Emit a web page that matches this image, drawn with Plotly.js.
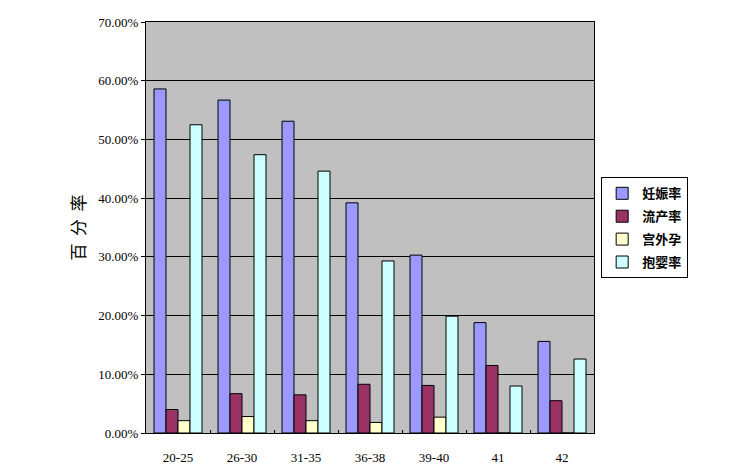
<!DOCTYPE html>
<html>
<head>
<meta charset="utf-8">
<script src="https://cdn.plot.ly/plotly-3.0.1.min.js"></script>
<style>html,body{margin:0;padding:0;background:#fff;}#chart{width:730px;height:471px;}</style>
</head>
<body>
<div id="chart"></div>
<script>
const categories = ["20-25", "26-30", "31-35", "36-38", "39-40", "41", "42"];
const seriesNames = ["妊娠率", "流产率", "宫外孕", "抱婴率"];
const pregnancy = [58.6, 56.7, 53.1, 39.2, 30.3, 18.8, 15.6];
const miscarriage = [4.0, 6.7, 6.5, 8.3, 8.1, 11.5, 5.5];
const ectopic = [2.1, 2.8, 2.1, 1.8, 2.7, 0, 0];
const babyRate = [52.5, 47.4, 44.6, 29.3, 19.9, 8.0, 12.6];
const colors = ["#9999ff", "#993366", "#ffffcc", "#ccffff"];
const allSeries = [pregnancy, miscarriage, ectopic, babyRate];

const traces = allSeries.map((vals, i) => ({
  type: "bar",
  name: seriesNames[i],
  legendgroup: "g" + i,
  x: categories,
  y: vals,
  marker: { color: colors[i], line: { color: "#000000", width: 1 } },
  hoverinfo: "x+y+name"
}));

const serif = "Liberation Serif, DejaVu Serif, serif";
const layout = {
  width: 730, height: 471,
  margin: { l: 146, r: 136, t: 22, b: 38 },
  paper_bgcolor: "#ffffff",
  plot_bgcolor: "#c0c0c0",
  barmode: "group",
  bargap: 0.25,
  bargroupgap: 0,
  showlegend: true,
  legend: {
    x: 1.016, y: 0.622, xanchor: "left", yanchor: "top",
    bgcolor: "#ffffff", bordercolor: "#000000", borderwidth: 1,
    font: { family: "Noto Sans CJK SC, sans-serif", size: 13, color: "#000", weight: "bold" },
    itemwidth: 30, tracegroupgap: 3
  },
  xaxis: {
    type: "category",
    showline: true, linecolor: "#000000", linewidth: 1, mirror: true,
    ticks: "inside", ticklen: 3, tickcolor: "#000", tickson: "boundaries",
    ticklabelstandoff: 12,
    tickfont: { family: serif, size: 13, color: "#000" },
    showgrid: false
  },
  yaxis: {
    range: [0, 70], dtick: 10,
    tickformat: ".2f", ticksuffix: "%",
    showline: true, linecolor: "#000000", linewidth: 1, mirror: true,
    ticks: "outside", ticklen: 4, tickcolor: "#000",
    showgrid: true, gridcolor: "#000000", gridwidth: 1,
    zeroline: false,
    tickfont: { family: serif, size: 13, color: "#000" },
    title: { text: "百  分  率", standoff: 8, font: { family: "Noto Sans CJK SC, sans-serif", size: 17, color: "#000" } }
  }
};

Plotly.newPlot("chart", traces, layout, { displayModeBar: false, staticPlot: true });
</script>
</body>
</html>
